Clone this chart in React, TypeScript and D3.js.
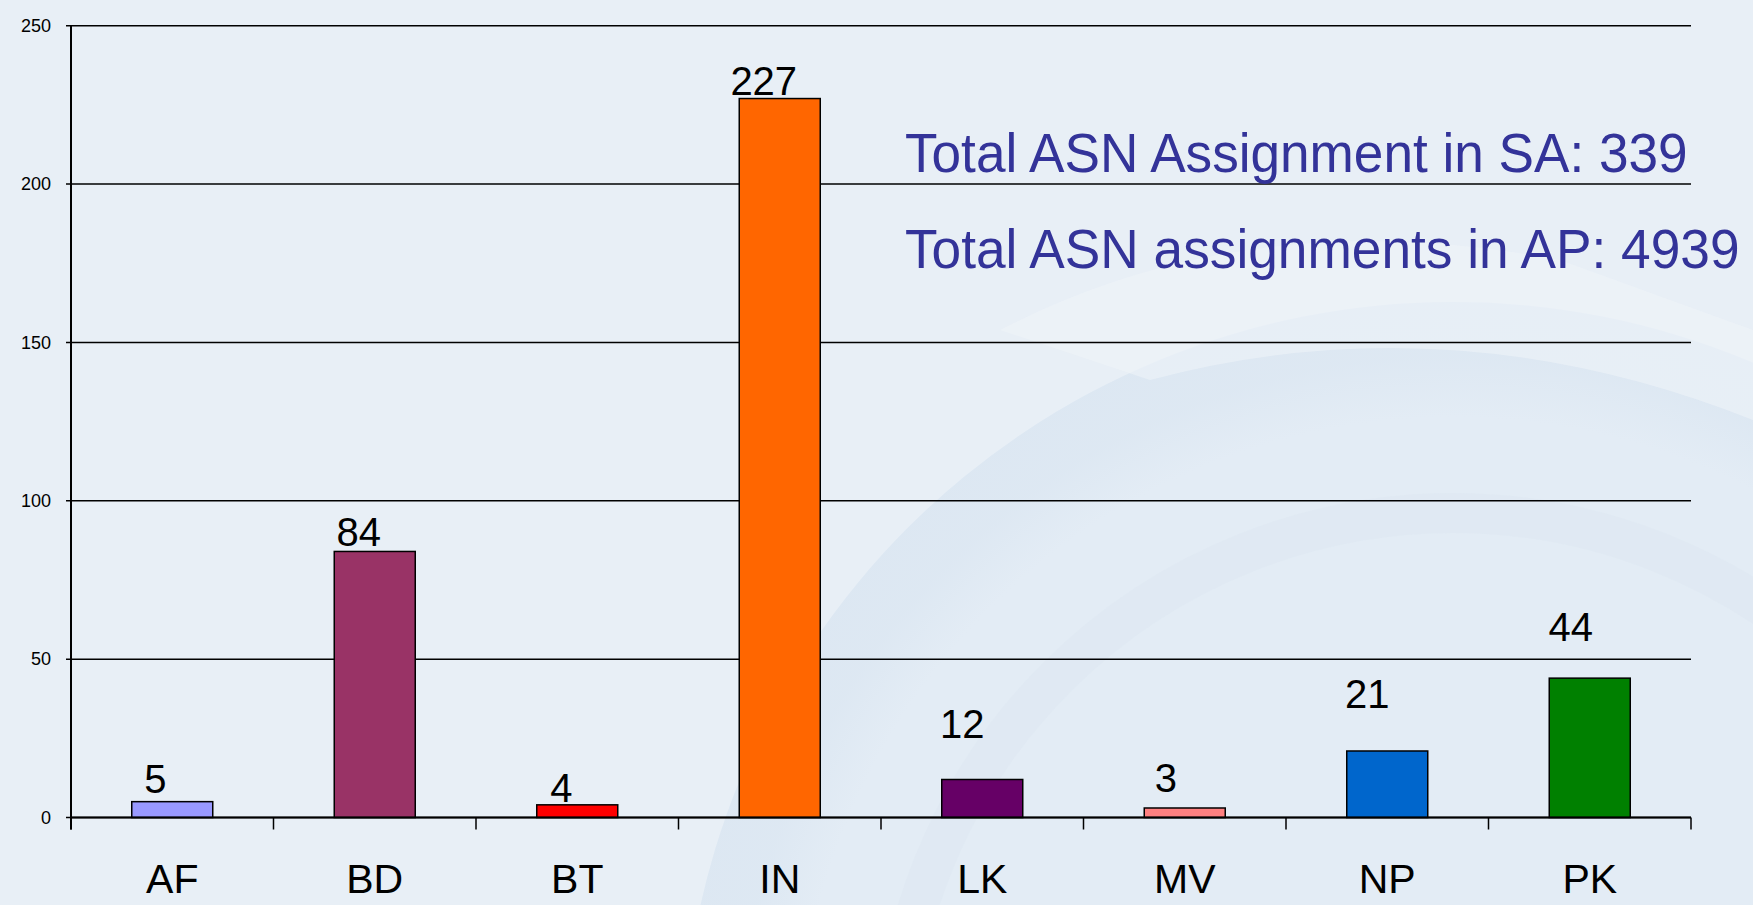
import React from "react";
import * as d3 from "d3";

const categories = ["AF", "BD", "BT", "IN", "LK", "MV", "NP", "PK"];
const values = [5, 84, 4, 227, 12, 3, 21, 44];
const barColors = ["#9999FF", "#993366", "#FF0000", "#FF6600", "#660066", "#FF8080", "#0066CC", "#008000"];
const yTicks = [0, 50, 100, 150, 200, 250];
const notes = ["Total ASN Assignment in SA: 339", "Total ASN assignments in AP: 4939"];

// layout-only nudges for the value labels (Excel's manual label placement)
const labelLift = [9, 5, 3, 4, 41, 16, 43, 37];
const labelShift = [-17, -16, -16, -16, -20, -19, -20, -19];

const W = 1753;
const H = 905;
const FONT = "'Liberation Sans', Arial, Helvetica, sans-serif";

export default function App() {
  const left = 71;
  const right = 1691;
  const top = 25.7;
  const bottom = 817.5;

  const y = d3.scaleLinear().domain([0, 250]).range([bottom, top]);
  const xBand = d3.scaleBand<string>().domain(categories).range([left, right]).padding(0);
  const xBar = d3
    .scaleBand<string>()
    .domain(categories)
    .range([left, right])
    .paddingInner(0.6)
    .paddingOuter(0.3);

  const boundaries = [...categories.map((c) => xBand(c) as number), right];

  return (
    <div>
      <style>{"body{margin:0;} svg{display:block;}"}</style>
      <svg width={W} height={H} viewBox={`0 0 ${W} ${H}`} fontFamily={FONT}>
        <defs>
          <radialGradient id="glow" cx="0.5" cy="0.5" r="0.5">
            <stop offset="0.85" stopColor="#DCE7F2" stopOpacity="0.0" />
            <stop offset="0.93" stopColor="#DCE7F2" stopOpacity="0.8" />
            <stop offset="1" stopColor="#DCE7F2" stopOpacity="0.9" />
          </radialGradient>
        </defs>
        <rect x={0} y={0} width={W} height={H} fill="#E8EFF6" />
        {/* faint watermark */}
        <circle cx={1453} cy={1073} r={771} fill="#E3ECF5" />
        <circle cx={1453} cy={1073} r={771} fill="url(#glow)" />
        <path
          d="M 1000 330 Q 1250 200 1560 260 L 1753 330 L 1753 420 Q 1450 300 1150 380 Z"
          fill="#EEF3F8"
          opacity={0.6}
        />
        <circle cx={1453} cy={1073} r={560} fill="none" stroke="#DDE7F1" strokeWidth={40} opacity={0.6} />

        {/* gridlines */}
        {yTicks.map((t) => (
          <line
            key={"g" + t}
            x1={left - 5}
            x2={right}
            y1={y(t)}
            y2={y(t)}
            stroke="#000"
            strokeWidth={1.5}
          />
        ))}
        {/* y tick labels */}
        {yTicks.map((t) => (
          <text
            key={"yl" + t}
            x={51}
            y={y(t)}
            dy="0.35em"
            textAnchor="end"
            fontSize={18}
            fill="#000"
          >
            {t}
          </text>
        ))}
        {/* y axis */}
        <line x1={left} x2={left} y1={top} y2={bottom + 12} stroke="#000" strokeWidth={2} />

        {/* bars */}
        {categories.map((c, i) => (
          <rect
            key={"b" + c}
            x={xBar(c)}
            y={y(values[i])}
            width={xBar.bandwidth()}
            height={y(0) - y(values[i])}
            fill={barColors[i]}
            stroke="#000"
            strokeWidth={1.5}
          />
        ))}

        {/* x axis */}
        <line x1={left} x2={right} y1={bottom} y2={bottom} stroke="#000" strokeWidth={2} />
        {boundaries.map((bx, i) => (
          <line key={"xt" + i} x1={bx} x2={bx} y1={bottom} y2={bottom + 12} stroke="#000" strokeWidth={1.5} />
        ))}
        {categories.map((c) => (
          <text
            key={"xl" + c}
            x={(xBand(c) as number) + xBand.bandwidth() / 2}
            y={893}
            textAnchor="middle"
            fontSize={41}
            fill="#000"
          >
            {c}
          </text>
        ))}

        {/* value labels */}
        {categories.map((c, i) => (
          <text
            key={"vl" + c}
            x={(xBar(c) as number) + xBar.bandwidth() / 2 + labelShift[i]}
            y={y(values[i]) - labelLift[i]}
            textAnchor="middle"
            fontSize={40}
            fill="#000"
          >
            {values[i]}
          </text>
        ))}

        {/* annotation (condensed like the original) */}
        <text transform="translate(905,171.7) scale(0.949,1)" x={0} y={0} fontSize={56} fill="#333399">
          {notes[0]}
        </text>
        <text transform="translate(905,268.3) scale(0.951,1)" x={0} y={0} fontSize={56} fill="#333399">
          {notes[1]}
        </text>
      </svg>
    </div>
  );
}
